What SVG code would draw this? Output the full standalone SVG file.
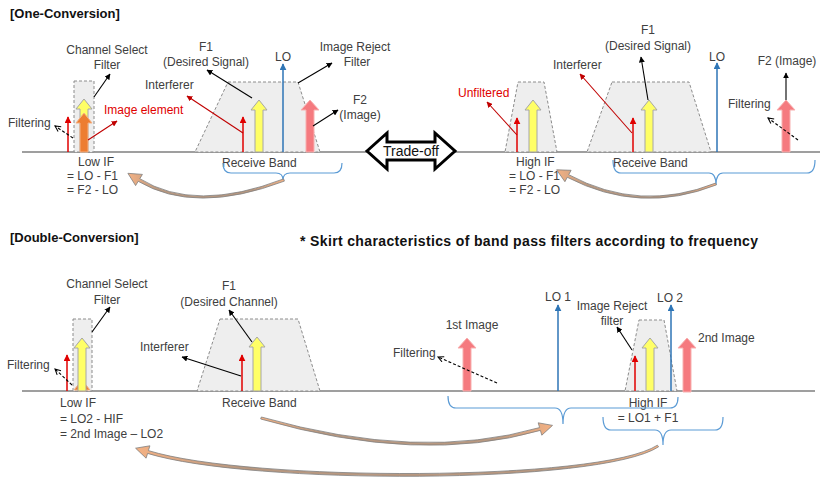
<svg xmlns="http://www.w3.org/2000/svg" width="825" height="479" viewBox="0 0 825 479">
<defs>
<style>
text{font-family:"Liberation Sans",Arial,sans-serif;font-size:12px;fill:#404040}
.title{font-size:13px;font-weight:bold;fill:#111}
.red{fill:#e00000}
.mid{text-anchor:middle}
.axis{stroke:#7f7f7f;stroke-width:1.5;fill:none}
.filt{fill:#eeeeee;stroke:#8c8c8c;stroke-width:1;stroke-dasharray:3,2}
.yel{fill:#ffff66;stroke:#a6a6a6;stroke-width:1}
.pink{fill:#f57a7f;stroke:#f8b0b0;stroke-width:1}
.org{fill:#ed7d31;stroke:#f4b183;stroke-width:1}
.sig{stroke:#e00000;stroke-width:1.5;fill:none}
.lo{stroke:#2e75b6;stroke-width:1.5;fill:none}
.ptr{stroke:#000;stroke-width:1.1;fill:none}
.rptr{stroke:#c00000;stroke-width:1.1;fill:none}
.dsh{stroke:#000;stroke-width:1.1;fill:none;stroke-dasharray:3,2}
.brace{stroke:#5b9bd5;stroke-width:1.2;fill:none}
.curv{fill:url(#band);stroke:#7f7f7f;stroke-width:0.8}
</style>
<linearGradient id="band" x1="0" y1="0" x2="1" y2="0">
<stop offset="0" stop-color="#f4b183"/>
<stop offset="0.2" stop-color="#b89880"/>
<stop offset="0.8" stop-color="#b89880"/>
<stop offset="1" stop-color="#f4b183"/>
</linearGradient>
<marker id="hk" viewBox="0 0 10 10" refX="9" refY="5" markerWidth="6" markerHeight="6" markerUnits="userSpaceOnUse" orient="auto"><path d="M0,0 L10,5 L0,10 Z" fill="#000"/></marker>
<marker id="hr" viewBox="0 0 10 10" refX="9" refY="5" markerWidth="6" markerHeight="6" markerUnits="userSpaceOnUse" orient="auto"><path d="M0,0 L10,5 L0,10 Z" fill="#c00000"/></marker>
<marker id="hs" viewBox="0 0 10 10" refX="9" refY="5" markerWidth="7" markerHeight="7" markerUnits="userSpaceOnUse" orient="auto"><path d="M0,0 L10,5 L0,10 Z" fill="#e00000"/></marker>
<marker id="hb" viewBox="0 0 10 10" refX="9" refY="5" markerWidth="7" markerHeight="7" markerUnits="userSpaceOnUse" orient="auto"><path d="M0,0 L10,5 L0,10 Z" fill="#2e75b6"/></marker>
<marker id="ho" viewBox="0 0 10 10" refX="9" refY="5" markerWidth="7" markerHeight="7" markerUnits="userSpaceOnUse" orient="auto"><path d="M1,1 L9,5 L1,9" fill="none" stroke="#000" stroke-width="1.5"/></marker>
</defs>
<rect width="825" height="479" fill="#fff"/>

<!-- ===== One-Conversion ===== -->
<g id="title-one"><text class="title" x="10" y="18">[One-Conversion]</text></g>

<g id="axis-top">
<line class="axis" x1="22" y1="152" x2="820" y2="152"/>
</g>

<g id="low-if-filter">
<rect class="filt" x="74" y="81" width="20" height="71"/>
<path class="yel" d="M84,99 L92,109 L88,109 L88,152 L80,152 L80,109 L76,109 Z"/>
<path class="org" d="M84,113 L92,123 L88,123 L88,152 L80,152 L80,123 L76,123 Z"/>
<line class="sig" x1="68" y1="152" x2="68" y2="117" marker-end="url(#hs)"/>
<text class="mid" x="107" y="54">Channel Select</text>
<text class="mid" x="107" y="69">Filter</text>
<text x="8" y="127">Filtering</text>
<text class="red" x="104" y="114">Image element</text>
<text x="78" y="166">Low IF</text>
<text x="67" y="180">= LO - F1</text>
<text x="67" y="194">= F2 - LO</text>
</g>

<g id="receive-band-left">
<path class="filt" d="M228,82 L298,82 L320,152 L195,152 Z"/>
<line class="sig" x1="243" y1="152" x2="243" y2="117" marker-end="url(#hs)"/>
<path class="yel" d="M259,100 L267,110 L263,110 L263,152 L255,152 L255,110 L251,110 Z"/>
<line class="lo" x1="283" y1="152" x2="283" y2="64" marker-end="url(#hb)"/>
<path class="pink" d="M310,100 L319,110 L314,110 L314,152 L306,152 L306,110 L301,110 Z"/>
<text x="145" y="89">Interferer</text>
<text class="mid" x="206" y="51">F1</text>
<text class="mid" x="206" y="66">(Desired Signal)</text>
<text class="mid" x="283" y="61">LO</text>
<text class="mid" x="355" y="51">Image Reject</text>
<text class="mid" x="357" y="66">Filter</text>
<text class="mid" x="360" y="104">F2</text>
<text class="mid" x="360" y="119">(Image)</text>
<text x="222" y="167">Receive Band</text>
</g>

<g id="trade-off">
<path d="M367,151 L387,133 L387,142 L435,142 L435,133 L455,151 L435,169 L435,160 L387,160 L387,169 Z" fill="#fff" stroke="#000" stroke-width="3" stroke-linejoin="miter"/>
<text class="mid" x="411" y="156" style="font-size:14px;fill:#111">Trade-off</text>
</g>

<g id="high-if-filter">
<path class="filt" d="M518,82 L544,82 L557,152 L505,152 Z"/>
<line class="sig" x1="517" y1="152" x2="517" y2="118" marker-end="url(#hs)"/>
<path class="yel" d="M533,100 L541,110 L537,110 L537,152 L529,152 L529,110 L525,110 Z"/>
<text class="red" x="458" y="97">Unfiltered</text>
<text x="516" y="166">High IF</text>
<text x="509" y="180">= LO - F1</text>
<text x="509" y="194">= F2 - LO</text>
</g>

<g id="receive-band-right">
<path class="filt" d="M612,82 L689,82 L711,152 L587,152 Z"/>
<line class="sig" x1="633" y1="152" x2="633" y2="118" marker-end="url(#hs)"/>
<path class="yel" d="M649,100 L657,110 L653,110 L653,152 L645,152 L645,110 L641,110 Z"/>
<line class="lo" x1="717" y1="152" x2="717" y2="63" marker-end="url(#hb)"/>
<path class="pink" d="M786,100 L795,110 L790,110 L790,152 L782,152 L782,110 L777,110 Z"/>
<text x="553" y="69">Interferer</text>
<text class="mid" x="648" y="34">F1</text>
<text class="mid" x="648" y="50">(Desired Signal)</text>
<text class="mid" x="717" y="61">LO</text>
<text class="mid" x="787" y="65">F2 (Image)</text>
<text x="728" y="108">Filtering</text>
<text x="613" y="167">Receive Band</text>
</g>

<!-- ===== Double-Conversion ===== -->
<g id="title-double">
<text class="title" x="10" y="242">[Double-Conversion]</text>
<text class="title" x="300" y="246" style="font-size:14px" textLength="458" lengthAdjust="spacing">* Skirt characteristics of band pass filters according to frequency</text>
</g>

<g id="axis-bottom">
<line class="axis" x1="22" y1="391" x2="815" y2="391"/>
</g>

<g id="low-if-filter-2">
<rect class="filt" x="73" y="319" width="19" height="72"/>
<path class="org" d="M82,380 L90,390 L86,390 L86,391 L78,391 L78,390 L74,390 Z"/>
<path class="yel" d="M82,338 L90,348 L86,348 L86,391 L78,391 L78,348 L74,348 Z"/>
<line class="sig" x1="67" y1="391" x2="67" y2="355" marker-end="url(#hs)"/>
<text class="mid" x="107" y="288">Channel Select</text>
<text class="mid" x="107" y="304">Filter</text>
<text x="7" y="369">Filtering</text>
<text x="60" y="407">Low IF</text>
<text x="60" y="423">= LO2 - HIF</text>
<text x="60" y="438">= 2nd Image – LO2</text>
</g>

<g id="receive-band-2">
<path class="filt" d="M220,319 L298,319 L320,391 L197,391 Z"/>
<line class="sig" x1="242" y1="391" x2="242" y2="355" marker-end="url(#hs)"/>
<path class="yel" d="M257,337 L265,347 L261,347 L261,391 L253,391 L253,347 L249,347 Z"/>
<text x="140" y="351">Interferer</text>
<text class="mid" x="229" y="290">F1</text>
<text class="mid" x="229" y="306">(Desired Channel)</text>
<text x="222" y="407">Receive Band</text>
</g>

<g id="first-image">
<path class="pink" d="M467,338 L476,348 L471,348 L471,391 L463,391 L463,348 L458,348 Z"/>
<text class="mid" x="472" y="329">1st Image</text>
<text x="393" y="357">Filtering</text>
<line class="lo" x1="558" y1="391" x2="558" y2="305" marker-end="url(#hb)"/>
<text class="mid" x="558" y="301">LO 1</text>
</g>

<g id="high-if-filter-2">
<path class="filt" d="M639,320 L664,320 L677,391 L625,391 Z"/>
<line class="sig" x1="635" y1="391" x2="635" y2="356" marker-end="url(#hs)"/>
<path class="yel" d="M650,338 L658,348 L654,348 L654,391 L646,391 L646,348 L642,348 Z"/>
<line class="lo" x1="671" y1="391" x2="671" y2="305" marker-end="url(#hb)"/>
<path class="pink" d="M687,338 L696,348 L691,348 L691,392 L683,392 L683,348 L678,348 Z"/>
<text class="mid" x="612" y="310">Image Reject</text>
<text class="mid" x="612" y="325">filter</text>
<text class="mid" x="670" y="302">LO 2</text>
<text x="698" y="342">2nd Image</text>
<text class="mid" x="648" y="407">High IF</text>
<text class="mid" x="648" y="422">= LO1 + F1</text>
</g>

<!-- ===== connectors ===== -->
<g id="connectors">
<line class="ptr" x1="94" y1="97" x2="110" y2="74" marker-end="url(#hk)"/>
<line class="ptr" x1="252" y1="98" x2="207" y2="70" marker-end="url(#hk)"/>
<line class="ptr" x1="298" y1="83" x2="332" y2="63" marker-end="url(#hk)"/>
<line class="ptr" x1="313" y1="126" x2="338" y2="110" marker-end="url(#hk)"/>
<line class="ptr" x1="648" y1="100" x2="641" y2="57" marker-end="url(#hk)"/>
<line class="ptr" x1="786" y1="100" x2="786" y2="73" marker-end="url(#hk)"/>
<line class="rptr" x1="88" y1="140" x2="117" y2="121" marker-end="url(#hr)"/>
<line class="rptr" x1="243" y1="133" x2="187" y2="96" marker-end="url(#hr)"/>
<line class="rptr" x1="517" y1="135" x2="487" y2="102" marker-end="url(#hr)"/>
<line class="rptr" x1="632" y1="133" x2="580" y2="74" marker-end="url(#hr)"/>
<line class="dsh" x1="73" y1="138" x2="55" y2="126" marker-end="url(#ho)"/>
<line class="dsh" x1="798" y1="140" x2="768" y2="118" marker-end="url(#ho)"/>

<line class="ptr" x1="92" y1="332" x2="110" y2="307" marker-end="url(#hk)"/>
<line class="ptr" x1="241" y1="376" x2="182" y2="357" marker-end="url(#hk)"/>
<line class="ptr" x1="252" y1="342" x2="229" y2="310" marker-end="url(#hk)"/>
<line class="ptr" x1="632" y1="350" x2="617" y2="327" marker-end="url(#hk)"/>
<line class="dsh" x1="72" y1="385" x2="55" y2="369" marker-end="url(#ho)"/>
<line class="dsh" x1="497" y1="383" x2="438" y2="357" marker-end="url(#ho)"/>

<path class="brace" d="M223,163 Q223,173 231,173 L276,173 Q283,173 283,180 Q283,173 290,173 L334,173 Q342,173 342,163"/>
<path class="brace" d="M613,160 Q613,173 621,173 L709,173 Q716,173 716,185 Q716,173 723,173 L807,173 Q815,173 815,160"/>
<path class="brace" d="M448,396 Q448,408 456,408 L555,408 Q563,408 563,424 Q563,408 571,408 L670,408 Q678,408 678,397"/>
<path class="brace" d="M603,417 Q603,430 611,430 L655,430 Q663,430 663,445 Q663,430 671,430 L715,430 Q723,430 723,417"/>

<path class="curv" d="M283.6,178.9 Q195,213 139.8,178.7 L142.4,174.4 L127.9,173.3 L135.6,185.6 L138.2,181.3 Q195,215 284.4,181.1 Z"/>
<path class="curv" d="M715.6,183.1 Q640,213 568.7,174.7 L571.1,170.3 L556.6,169.8 L564.9,181.7 L567.3,177.3 Q640,215 716.4,184.9 Z"/>
<path class="curv" d="M261.3,417 Q420,462 539.6,427.6 L538.2,422.8 L552.5,425.4 L541.8,435.2 L540.4,430.4 Q420,465 260.7,419 Z"/>
<path class="curv" d="M657.4,445.2 C600,482 250,482 148.4,450.6 L149.9,445.8 L135.6,448.2 L146.1,458.2 L147.6,453.4 C250,485 600,485 658.6,446.8 Z"/>
</g>
</svg>
